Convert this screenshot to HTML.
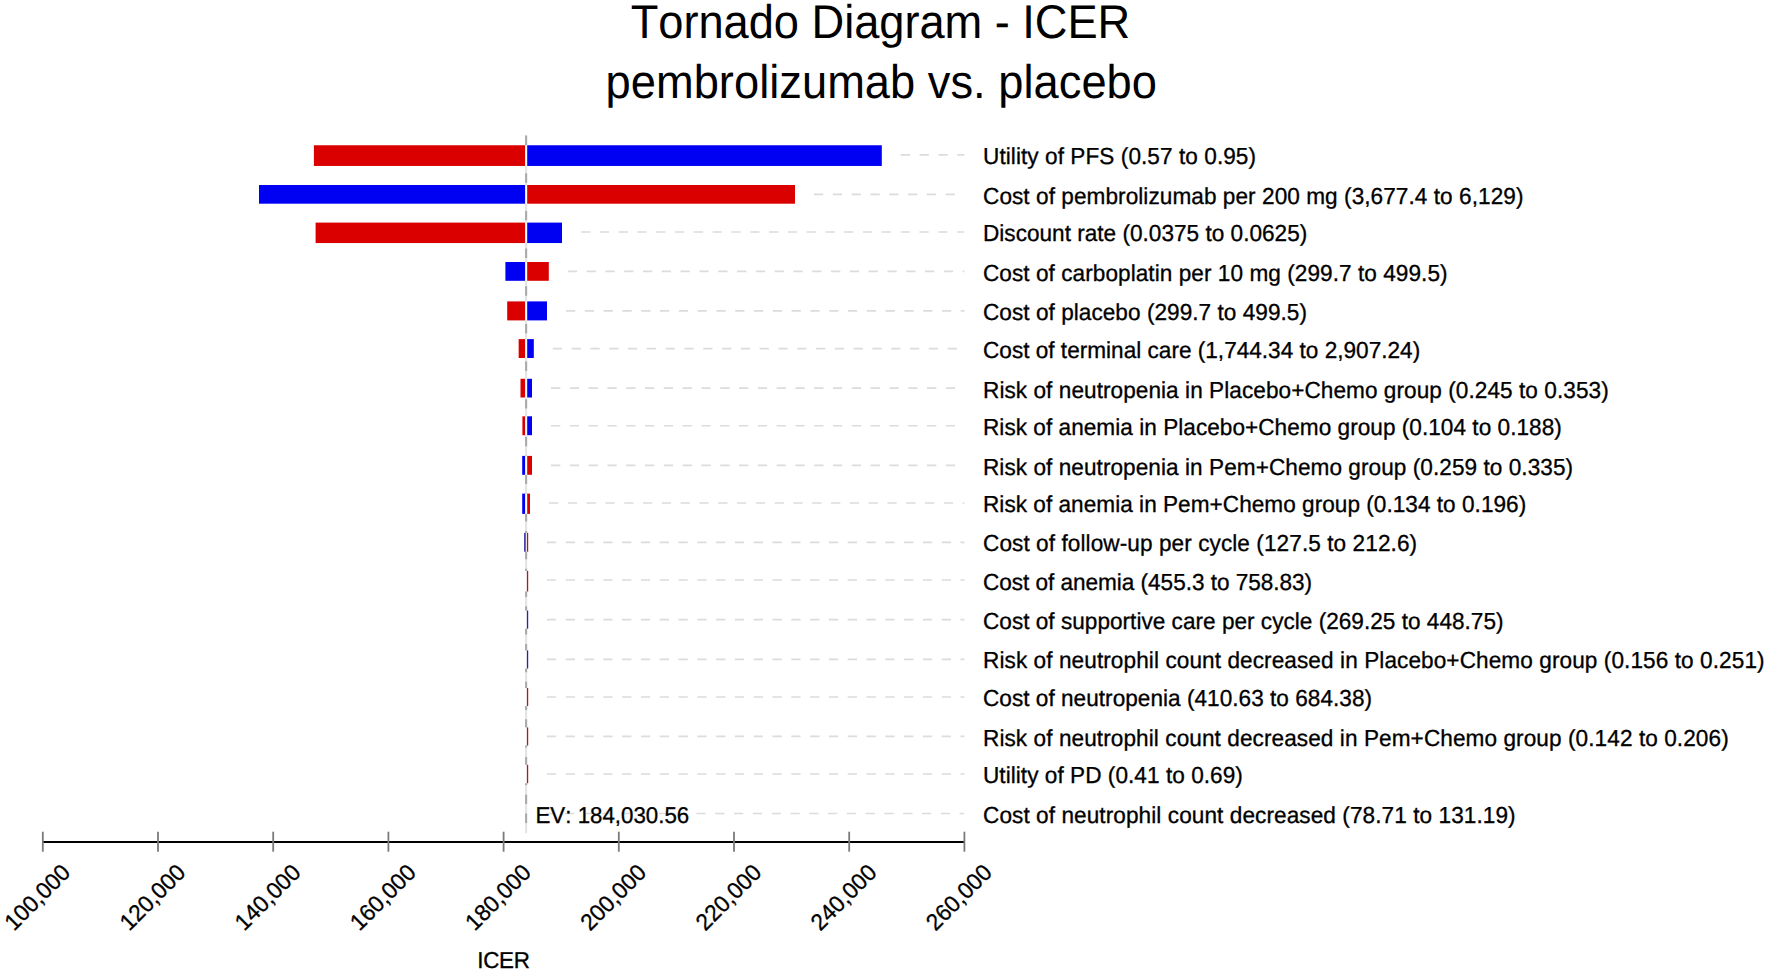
<!DOCTYPE html>
<html><head><meta charset="utf-8"><title>Tornado Diagram - ICER</title>
<style>
html,body{margin:0;padding:0;background:#fff;}
body{width:1772px;height:976px;overflow:hidden;}
svg{display:block;}
text{font-family:'Liberation Sans', Arial, Helvetica, sans-serif;fill:#000;font-kerning:none;text-rendering:geometricPrecision;}
</style></head><body>
<svg width="1772" height="976" viewBox="0 0 1772 976">
<rect x="0" y="0" width="1772" height="976" fill="#fff"/>

<text transform="translate(880.50 38.00) scale(1 1.045)" font-size="45.25" text-anchor="middle" textLength="499.60">Tornado Diagram - ICER</text>
<text transform="translate(881.25 98.00) scale(1 1.045)" font-size="45.25" text-anchor="middle" textLength="551.40">pembrolizumab vs. placebo</text>
<g stroke="#dcdcdc" stroke-width="1.7" stroke-dasharray="9.3 9.5" fill="none">
<line x1="900.80" y1="154.80" x2="964.40" y2="154.80"/>
<line x1="814.00" y1="194.35" x2="964.40" y2="194.35"/>
<line x1="581.00" y1="232.00" x2="964.40" y2="232.00"/>
<line x1="567.80" y1="271.40" x2="964.40" y2="271.40"/>
<line x1="566.00" y1="310.90" x2="964.40" y2="310.90"/>
<line x1="552.80" y1="348.55" x2="964.40" y2="348.55"/>
<line x1="551.00" y1="388.15" x2="964.40" y2="388.15"/>
<line x1="551.00" y1="425.75" x2="964.40" y2="425.75"/>
<line x1="551.00" y1="465.35" x2="964.40" y2="465.35"/>
<line x1="549.00" y1="503.00" x2="964.40" y2="503.00"/>
<line x1="546.90" y1="542.30" x2="964.40" y2="542.30"/>
<line x1="546.90" y1="580.00" x2="964.40" y2="580.00"/>
<line x1="546.90" y1="619.65" x2="964.40" y2="619.65"/>
<line x1="546.90" y1="659.45" x2="964.40" y2="659.45"/>
<line x1="546.90" y1="697.00" x2="964.40" y2="697.00"/>
<line x1="546.90" y1="736.45" x2="964.40" y2="736.45"/>
<line x1="546.90" y1="774.00" x2="964.40" y2="774.00"/>
<line x1="546.00" y1="813.50" x2="964.40" y2="813.50"/>
</g>
<line x1="526.10" y1="135.6" x2="526.10" y2="833.2" stroke="#e4e4e4" stroke-width="2.1"/>
<line x1="526.10" y1="135.6" x2="526.10" y2="832.2" stroke="#ababab" stroke-width="2.1" stroke-dasharray="9.4 9.43"/>
<rect x="525.0" y="145.25" width="2.3" height="20.70" fill="#fff"/>
<rect x="313.90" y="145.25" width="211.20" height="20.70" fill="#da0000"/>
<rect x="527.20" y="145.25" width="354.60" height="20.70" fill="#0000f2"/>
<rect x="525.0" y="185.00" width="2.3" height="18.70" fill="#fff"/>
<rect x="259.00" y="185.00" width="266.10" height="18.70" fill="#0000f2"/>
<rect x="527.20" y="185.00" width="267.80" height="18.70" fill="#da0000"/>
<rect x="525.0" y="222.60" width="2.3" height="20.45" fill="#fff"/>
<rect x="315.60" y="222.60" width="209.50" height="20.45" fill="#da0000"/>
<rect x="527.20" y="222.60" width="34.80" height="20.45" fill="#0000f2"/>
<rect x="525.0" y="262.00" width="2.3" height="18.80" fill="#fff"/>
<rect x="505.40" y="262.00" width="19.70" height="18.80" fill="#0000f2"/>
<rect x="527.20" y="262.00" width="21.60" height="18.80" fill="#da0000"/>
<rect x="525.0" y="301.40" width="2.3" height="19.00" fill="#fff"/>
<rect x="507.20" y="301.40" width="17.90" height="19.00" fill="#da0000"/>
<rect x="527.20" y="301.40" width="19.80" height="19.00" fill="#0000f2"/>
<rect x="525.0" y="339.10" width="2.3" height="18.90" fill="#fff"/>
<rect x="518.65" y="339.10" width="6.45" height="18.90" fill="#da0000"/>
<rect x="527.20" y="339.10" width="6.60" height="18.90" fill="#0000f2"/>
<rect x="525.0" y="378.80" width="2.3" height="18.70" fill="#fff"/>
<rect x="520.50" y="378.80" width="4.60" height="18.70" fill="#da0000"/>
<rect x="527.20" y="378.80" width="4.80" height="18.70" fill="#0000f2"/>
<rect x="525.0" y="416.30" width="2.3" height="18.90" fill="#fff"/>
<rect x="522.40" y="416.30" width="2.70" height="18.90" fill="#da0000"/>
<rect x="527.20" y="416.30" width="4.80" height="18.90" fill="#0000f2"/>
<rect x="525.0" y="455.90" width="2.3" height="18.90" fill="#fff"/>
<rect x="522.20" y="455.90" width="2.90" height="18.90" fill="#0000f2"/>
<rect x="527.20" y="455.90" width="4.80" height="18.90" fill="#da0000"/>
<rect x="525.0" y="493.60" width="2.3" height="20.30" fill="#fff"/>
<rect x="522.20" y="493.60" width="2.90" height="20.30" fill="#0000f2"/>
<rect x="527.20" y="493.60" width="2.80" height="20.30" fill="#da0000"/>
<rect x="525.0" y="532.90" width="2.3" height="18.80" fill="#fff"/>
<rect x="524.00" y="532.90" width="1.80" height="18.80" fill="#4646aa"/>
<rect x="526.85" y="532.90" width="1.35" height="18.80" fill="#a41f1f"/>
<rect x="525.0" y="570.90" width="2.3" height="20.60" fill="#fff"/>
<rect x="526.85" y="570.90" width="1.35" height="20.60" fill="#a41f1f"/>
<rect x="525.0" y="610.60" width="2.3" height="18.10" fill="#fff"/>
<rect x="526.85" y="610.60" width="1.35" height="18.10" fill="#2626a4"/>
<rect x="525.0" y="650.40" width="2.3" height="18.10" fill="#fff"/>
<rect x="526.85" y="650.40" width="1.35" height="18.10" fill="#2626a4"/>
<rect x="525.0" y="688.00" width="2.3" height="18.00" fill="#fff"/>
<rect x="526.85" y="688.00" width="1.35" height="18.00" fill="#a41f1f"/>
<rect x="525.0" y="727.40" width="2.3" height="18.10" fill="#fff"/>
<rect x="526.85" y="727.40" width="1.35" height="18.10" fill="#a41f1f"/>
<rect x="525.0" y="764.80" width="2.3" height="18.40" fill="#fff"/>
<rect x="526.85" y="764.80" width="1.35" height="18.40" fill="#a41f1f"/>
<text transform="translate(983.00 164.20) scale(1 1.025)" font-size="22.60" textLength="273.04" stroke="#000" stroke-width="0.30">Utility of PFS (0.57 to 0.95)</text>
<text transform="translate(983.00 203.70) scale(1 1.025)" font-size="22.60" textLength="540.44" stroke="#000" stroke-width="0.30">Cost of pembrolizumab per 200 mg (3,677.4 to 6,129)</text>
<text transform="translate(983.00 241.20) scale(1 1.025)" font-size="22.60" textLength="324.25" stroke="#000" stroke-width="0.30">Discount rate (0.0375 to 0.0625)</text>
<text transform="translate(983.00 280.50) scale(1 1.025)" font-size="22.60" textLength="464.60" stroke="#000" stroke-width="0.30">Cost of carboplatin per 10 mg (299.7 to 499.5)</text>
<text transform="translate(983.00 320.00) scale(1 1.025)" font-size="22.60" textLength="324.00" stroke="#000" stroke-width="0.30">Cost of placebo (299.7 to 499.5)</text>
<text transform="translate(983.00 357.80) scale(1 1.025)" font-size="22.60" textLength="437.17" stroke="#000" stroke-width="0.30">Cost of terminal care (1,744.34 to 2,907.24)</text>
<text transform="translate(983.00 397.80) scale(1 1.025)" font-size="22.60" textLength="625.67" stroke="#000" stroke-width="0.30">Risk of neutropenia in Placebo+Chemo group (0.245 to 0.353)</text>
<text transform="translate(983.00 435.40) scale(1 1.025)" font-size="22.60" textLength="578.82" stroke="#000" stroke-width="0.30">Risk of anemia in Placebo+Chemo group (0.104 to 0.188)</text>
<text transform="translate(983.00 474.60) scale(1 1.025)" font-size="22.60" textLength="590.07" stroke="#000" stroke-width="0.30">Risk of neutropenia in Pem+Chemo group (0.259 to 0.335)</text>
<text transform="translate(983.00 512.20) scale(1 1.025)" font-size="22.60" textLength="543.22" stroke="#000" stroke-width="0.30">Risk of anemia in Pem+Chemo group (0.134 to 0.196)</text>
<text transform="translate(983.00 551.40) scale(1 1.025)" font-size="22.60" textLength="434.07" stroke="#000" stroke-width="0.30">Cost of follow-up per cycle (127.5 to 212.6)</text>
<text transform="translate(983.00 589.50) scale(1 1.025)" font-size="22.60" textLength="329.03" stroke="#000" stroke-width="0.30">Cost of anemia (455.3 to 758.83)</text>
<text transform="translate(983.00 628.90) scale(1 1.025)" font-size="22.60" textLength="520.56" stroke="#000" stroke-width="0.30">Cost of supportive care per cycle (269.25 to 448.75)</text>
<text transform="translate(983.00 668.40) scale(1 1.025)" font-size="22.60" textLength="781.58" stroke="#000" stroke-width="0.30">Risk of neutrophil count decreased in Placebo+Chemo group (0.156 to 0.251)</text>
<text transform="translate(983.00 705.70) scale(1 1.025)" font-size="22.60" textLength="389.04" stroke="#000" stroke-width="0.30">Cost of neutropenia (410.63 to 684.38)</text>
<text transform="translate(983.00 745.70) scale(1 1.025)" font-size="22.60" textLength="745.69" stroke="#000" stroke-width="0.30">Risk of neutrophil count decreased in Pem+Chemo group (0.142 to 0.206)</text>
<text transform="translate(983.00 783.20) scale(1 1.025)" font-size="22.60" textLength="259.83" stroke="#000" stroke-width="0.30">Utility of PD (0.41 to 0.69)</text>
<text transform="translate(983.00 822.60) scale(1 1.025)" font-size="22.60" textLength="532.60" stroke="#000" stroke-width="0.30">Cost of neutrophil count decreased (78.71 to 131.19)</text>
<text transform="translate(535.50 823.00) scale(1 1.025)" font-size="22.30" stroke="#000" stroke-width="0.30">EV: 184,030.56</text>
<line x1="42.80" y1="842.00" x2="964.40" y2="842.00" stroke="#000" stroke-width="1.9"/>
<g stroke="#7a7a7a" stroke-width="1.8">
<line x1="42.80" y1="831.7" x2="42.80" y2="851.7"/>
<line x1="158.00" y1="831.7" x2="158.00" y2="851.7"/>
<line x1="273.20" y1="831.7" x2="273.20" y2="851.7"/>
<line x1="388.40" y1="831.7" x2="388.40" y2="851.7"/>
<line x1="503.60" y1="831.7" x2="503.60" y2="851.7"/>
<line x1="618.80" y1="831.7" x2="618.80" y2="851.7"/>
<line x1="734.00" y1="831.7" x2="734.00" y2="851.7"/>
<line x1="849.20" y1="831.7" x2="849.20" y2="851.7"/>
<line x1="964.40" y1="831.7" x2="964.40" y2="851.7"/>
</g>
<text transform="translate(71.70 873.90) rotate(-45) scale(1 1.025)" font-size="22.60" text-anchor="end" stroke="#000" stroke-width="0.30">100,000</text>
<text transform="translate(186.90 873.90) rotate(-45) scale(1 1.025)" font-size="22.60" text-anchor="end" stroke="#000" stroke-width="0.30">120,000</text>
<text transform="translate(302.10 873.90) rotate(-45) scale(1 1.025)" font-size="22.60" text-anchor="end" stroke="#000" stroke-width="0.30">140,000</text>
<text transform="translate(417.30 873.90) rotate(-45) scale(1 1.025)" font-size="22.60" text-anchor="end" stroke="#000" stroke-width="0.30">160,000</text>
<text transform="translate(532.50 873.90) rotate(-45) scale(1 1.025)" font-size="22.60" text-anchor="end" stroke="#000" stroke-width="0.30">180,000</text>
<text transform="translate(647.70 873.90) rotate(-45) scale(1 1.025)" font-size="22.60" text-anchor="end" stroke="#000" stroke-width="0.30">200,000</text>
<text transform="translate(762.90 873.90) rotate(-45) scale(1 1.025)" font-size="22.60" text-anchor="end" stroke="#000" stroke-width="0.30">220,000</text>
<text transform="translate(878.10 873.90) rotate(-45) scale(1 1.025)" font-size="22.60" text-anchor="end" stroke="#000" stroke-width="0.30">240,000</text>
<text transform="translate(993.30 873.90) rotate(-45) scale(1 1.025)" font-size="22.60" text-anchor="end" stroke="#000" stroke-width="0.30">260,000</text>
<text transform="translate(503.50 968.00) scale(1 1.025)" font-size="22.40" text-anchor="middle" textLength="52.60" stroke="#000" stroke-width="0.30">ICER</text>
</svg>
</body></html>
